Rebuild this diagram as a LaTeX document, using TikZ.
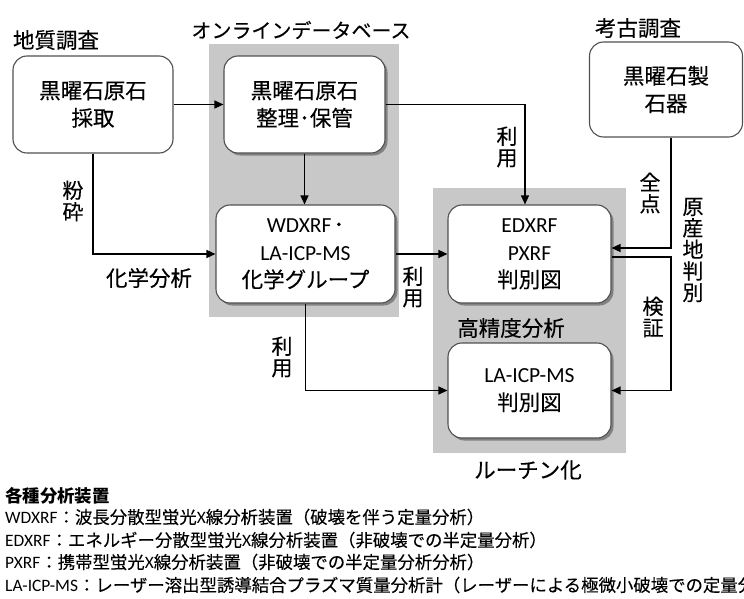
\documentclass[tikz,border=0pt]{standalone}
\usepackage{fontspec}
\setmainfont{Carlito}
\newfontfamily\lat{Carlito}
\newfontfamily\jp[FakeBold=0.3]{Noto Sans CJK JP}
\newfontfamily\jpr[FakeBold=0.15]{Noto Sans CJK JP}
\newfontfamily\jpb{Noto Sans CJK JP}
\usetikzlibrary{arrows.meta,shadows}
\definecolor{regionfill}{RGB}{200,200,200}
\definecolor{boxline}{RGB}{80,80,80}
\newcommand\bigf{\fontsize{21.5pt}{27.5pt}\selectfont}
\newcommand\vertf{\fontsize{21pt}{21.5pt}\selectfont}
\newcommand\legf{\fontsize{17.4pt}{22pt}\selectfont}
\tikzset{
  box/.style={draw=boxline, line width=1.1pt, rounded corners=14pt, fill=white,
    align=center, inner sep=0pt, font=\jp\bigf},
  shbox/.style={box, drop shadow={shadow xshift=2.5pt, shadow yshift=-2.5pt, fill=black, opacity=0.35}},
  region/.style={fill=regionfill, draw=none, inner sep=0pt},
  lbl/.style={font=\jp\bigf, inner sep=0pt},
  vlbl/.style={font=\jp\vertf, align=center, inner sep=0pt},
  leg/.style={font=\legf, anchor=west, inner sep=0pt},
  conn/.style={draw=black, line width=1.3pt},
}
\begin{document}
\begin{tikzpicture}[x=1pt,y=-1pt,>={Triangle[length=9pt,width=8pt]}]
\useasboundingbox (0,0) rectangle (744,599);
\clip (0,0) rectangle (744,599);
\fill[white] (0,0) rectangle (744,599);
% grey regions
\node[region, minimum width=190pt, minimum height=273pt] (db) at (304,180.5) {};
\node[region, minimum width=193pt, minimum height=265pt] (rt) at (529.5,320.5) {};
% titles
\node[lbl] (geo) at (56,40) {地質調査};
\node[lbl, font=\jp\fontsize{20pt}{24pt}\selectfont] (dbt) at (301,30) {オンラインデータベース};
\node[lbl] (arc) at (638,28) {考古調査};
\node[lbl] (hp) at (511,328) {高精度分析};
\node[lbl] (rtt) at (528,470) {ルーチン化};
% boxes
\node[box, minimum width=160pt, minimum height=97pt] (b1) at (93,104.5) {黒曜石原石\\採取};
\node[shbox, minimum width=161pt, minimum height=97pt] (b2) at (304.5,104.5) {黒曜石原石\\整理･保管};
\node[shbox, minimum width=179pt, minimum height=98pt] (b3) at (305.5,254) {{\lat WDXRF}\kern2pt･\\{\lat LA-ICP-MS}\\化学グループ};
\node[shbox, minimum width=163pt, minimum height=98pt] (b4) at (529.5,254) {{\lat EDXRF}\\{\lat PXRF}\\判別図};
\node[shbox, minimum width=163pt, minimum height=95pt] (b5) at (529.5,390.5) {{\lat LA-ICP-MS}\\判別図};
\node[box, minimum width=153pt, minimum height=95pt] (b6) at (666,89.5) {黒曜石製\\石器};
% connectors
\coordinate (ua) at (525,0);
\coordinate (vx) at (671,0);
\draw[conn,->] (b1.east) -- (b2.west);
\draw[conn,->] (b2.south) -- (b2.south |- b3.north);
\draw[conn,->] (b1.south) |- (b3.west);
\draw[conn,->] (b3.east) -- (b4.west);
\draw[conn,->] (b2.east) -| (ua |- b4.north);
\draw[conn,->] (b3.south) |- (b5.west);
\draw[conn,->] (vx |- b6.south) |- ([yshift=6pt]b4.east);
\draw[conn,->] ([yshift=-3pt]b4.east) -- ([yshift=-3pt]b4.east -| vx) |- (b5.east);
% connector labels
\node[vlbl] (l1) at (73,201) {粉\\砕};
\node[lbl] (l2) at (149,278) {化学分析};
\node[vlbl] (l3) at (507,147) {利\\用};
\node[vlbl] (l4) at (413,287) {利\\用};
\node[vlbl] (l5) at (282,357) {利\\用};
\node[vlbl] (l6) at (650,193) {全\\点};
\node[vlbl] (l7) at (653,317) {検\\証};
\node[vlbl] (l8) at (693,250) {原\\産\\地\\判\\別};
% legend
\node[leg] (g0) at (5,496) {{\jpb\bfseries 各種分析装置}};
\node[leg] (g1) at (5,517) {WDXRF{\jpr ：波長分散型蛍光}X{\jpr 線分析装置（破壊を伴う定量分析）}};
\node[leg] (g2) at (5,540) {EDXRF{\jpr ：エネルギー分散型蛍光}X{\jpr 線分析装置（非破壊での半定量分析）}};
\node[leg] (g3) at (5,562) {PXRF{\jpr ：携帯型蛍光}X{\jpr 線分析装置（非破壊での半定量分析分析）}};
\node[leg] (g4) at (5,585) {LA-ICP-MS{\jpr ：レーザー溶出型誘導結合プラズマ質量分析計（レーザーによる極微小破壊での定量分析）}};
\end{tikzpicture}
\end{document}
